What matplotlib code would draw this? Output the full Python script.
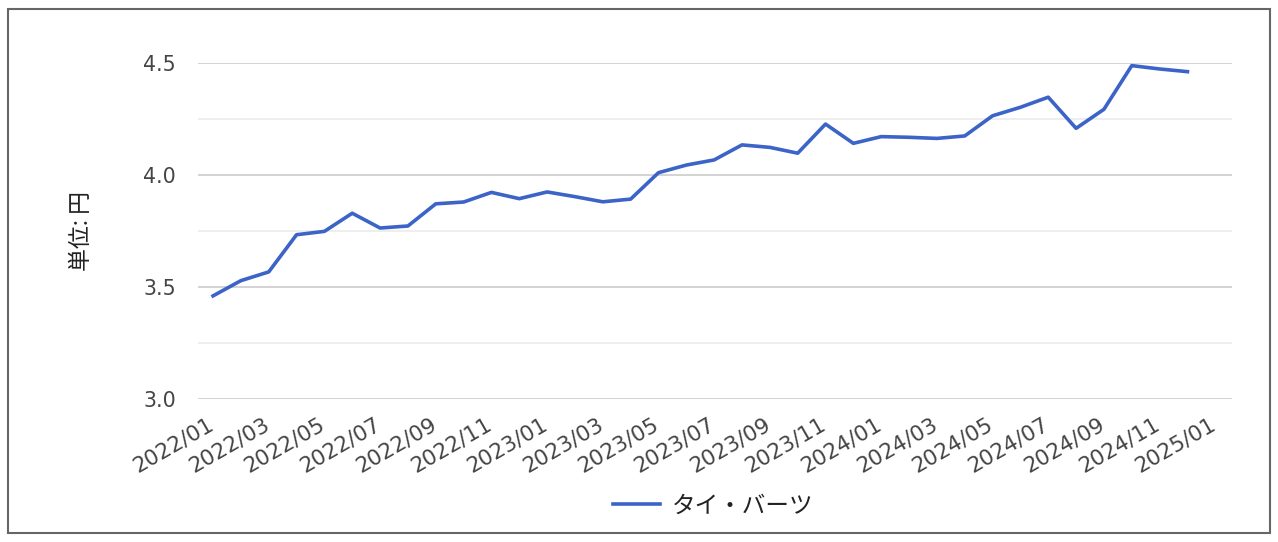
import matplotlib.pyplot as plt
from matplotlib.patches import Rectangle
from matplotlib.ticker import MultipleLocator
from matplotlib.transforms import ScaledTranslation

plt.rcParams['font.family'] = ['Noto Sans CJK JP', 'DejaVu Sans']

# monthly values 2022/01 - 2024/12
months = [f"{y}/{m:02d}" for y in (2022, 2023, 2024) for m in range(1, 13)]
values = [3.459, 3.527, 3.566, 3.732, 3.747, 3.828, 3.762, 3.771, 3.870, 3.878, 3.921, 3.893,
          3.923, 3.902, 3.879, 3.891, 4.009, 4.043, 4.066, 4.133, 4.122, 4.096, 4.226, 4.140,
          4.170, 4.167, 4.162, 4.173, 4.263, 4.301, 4.346, 4.207, 4.292, 4.487, 4.472, 4.460]
tick_labels = months[::2] + ["2025/01"]
series_name = "タイ・バーツ"

fig = plt.figure(figsize=(12.78, 5.42), dpi=100)
fig.patches.append(Rectangle((8 / 1278, 9 / 542), 1262 / 1278, 524 / 542, transform=fig.transFigure,
                             fill=False, edgecolor="#666666", linewidth=1.5))

ax = fig.add_axes([198 / 1278, 1 - 398.7 / 542, 1034 / 1278, 336 / 542])
x = list(range(len(values)))
ax.plot(x, values, color="#3c63c8", linewidth=2.6, label=series_name)

ax.set_ylim(3.0, 4.5)
ax.set_xlim(-0.54, 36.6)
ax.yaxis.set_major_locator(MultipleLocator(0.5))
ax.yaxis.set_minor_locator(MultipleLocator(0.25))
ax.set_yticklabels([f"{v:.1f}" for v in ax.get_yticks()], family="DejaVu Sans")
ax.grid(which="major", axis="y", color="#cccccc", linewidth=1.2)
ax.grid(which="minor", axis="y", color="#ebebeb", linewidth=1.2)
ax.set_axisbelow(True)
for s in ax.spines.values():
    s.set_visible(False)

ax.set_xticks(range(0, 37, 2))
ax.set_xticklabels(tick_labels, rotation=30, ha="right", rotation_mode="anchor", family="DejaVu Sans")
ax.tick_params(axis="both", which="both", length=0, labelcolor="#444444")
ax.tick_params(axis="y", pad=16, labelsize=14.8)
ax.tick_params(axis="x", pad=11, labelsize=15.6)
shift = ScaledTranslation(-6 / 100, 0, fig.dpi_scale_trans)
for lab in ax.get_xticklabels():
    lab.set_transform(lab.get_transform() + shift)

ax.set_ylabel("単位: 円", fontsize=16.5, color="#222222", labelpad=36)

fig.legend(loc="center", bbox_to_anchor=(713 / 1278, 1 - 506 / 542), frameon=False,
           fontsize=17, handlelength=2.0, handletextpad=0.5, labelcolor="#222222")

fig.savefig("out.png", dpi=100)
